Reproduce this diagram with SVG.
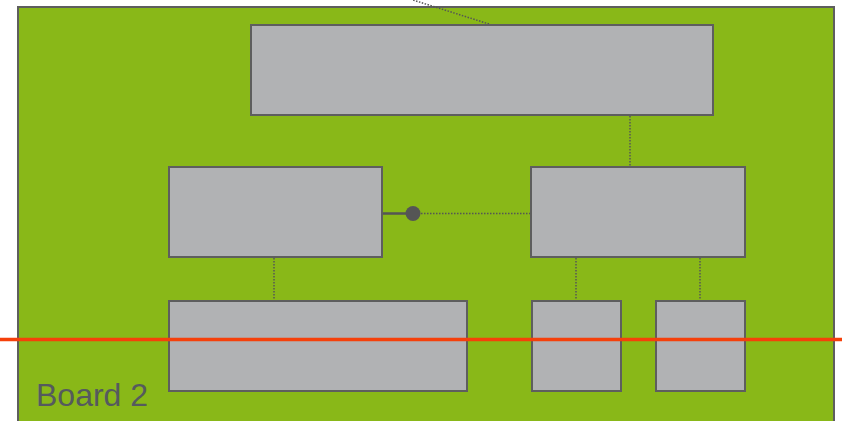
<svg xmlns="http://www.w3.org/2000/svg" width="842" height="421" viewBox="0 0 842 421">
<style>
.box{fill:#b1b2b4;stroke:#5e5e5e;stroke-width:2}
.dot{fill:none;stroke:#555;stroke-width:1.5;stroke-dasharray:1.5 1.5}
</style>
<rect x="0" y="0" width="842" height="421" fill="#ffffff"/>
<g id="board">
<rect x="18" y="7" width="816" height="430" fill="#89b818" stroke="#5e5e5e" stroke-width="2"/>
<text x="36" y="406" font-family="Liberation Sans, Arial, sans-serif" font-size="32" fill="#555a5e">Board 2</text>
</g>
<g id="connectors">
<line class="dot" x1="489" y1="24" x2="413" y2="0"/>
<line class="dot" x1="630" y1="116" x2="630" y2="167"/>
<line class="dot" x1="274" y1="258" x2="274" y2="301"/>
<line class="dot" x1="576" y1="258" x2="576" y2="301"/>
<line class="dot" x1="700" y1="258" x2="700" y2="301"/>
<line x1="382" y1="213.5" x2="408" y2="213.5" stroke="#555" stroke-width="2.5"/>
<circle cx="413" cy="213.5" r="7.5" fill="#555"/>
<line class="dot" x1="421" y1="213.5" x2="531" y2="213.5"/>
</g>
<g id="top"><rect class="box" x="251" y="25" width="462" height="90"/></g>
<g id="midleft"><rect class="box" x="169" y="167" width="213" height="90"/></g>
<g id="midright"><rect class="box" x="531" y="167" width="214" height="90"/></g>
<g id="botleft"><rect class="box" x="169" y="301" width="298" height="90"/></g>
<g id="botmid"><rect class="box" x="532" y="301" width="89" height="90"/></g>
<g id="botright"><rect class="box" x="656" y="301" width="89" height="90"/></g>
<line x1="0" y1="339.5" x2="842" y2="339.5" stroke="#f5400a" stroke-width="3.5"/>
</svg>
